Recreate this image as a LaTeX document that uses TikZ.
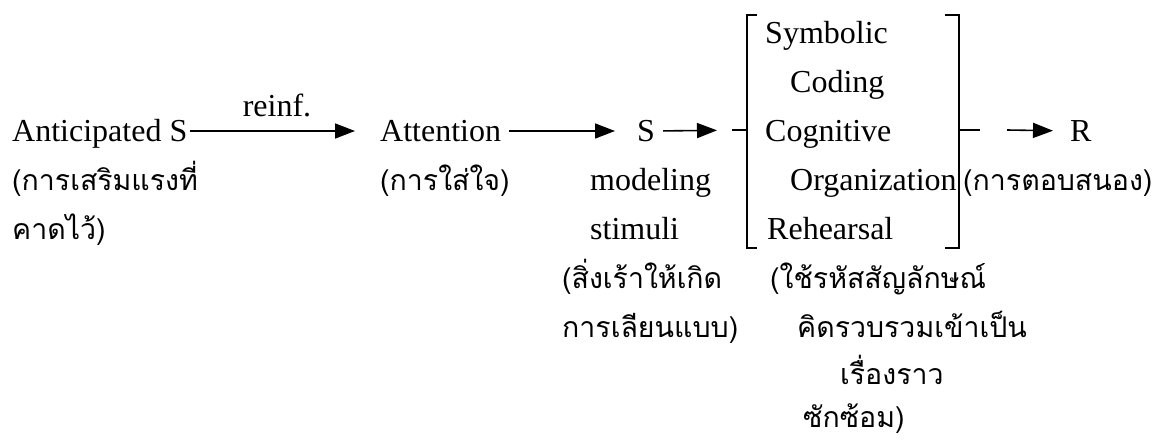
\documentclass[tikz,border=0pt]{standalone}
\usepackage{fontspec}
\setmainfont{Liberation Serif}
\newfontfamily\thaifont[Script=Thai]{Loma}
\usetikzlibrary{arrows.meta}
\begin{document}
\begin{tikzpicture}[x=1pt,y=-1pt,
  lat/.style={anchor=west, inner sep=0pt, font=\fontsize{32}{36}\selectfont, text height=20pt, text depth=0pt},
  tha/.style={anchor=west, inner sep=0pt, font=\thaifont\fontsize{28.5}{32}\selectfont, text height=20pt, text depth=0pt},
  ln/.style={line width=1.6pt},
  arr/.style={line width=1.6pt, -{Triangle[length=20pt,width=15pt]}}]
\useasboundingbox (0,0) rectangle (1158,439);
% rows: 33 82 131 180 229 278 327 375 417
\node[lat] (antS) at (12,131) {Anticipated S};
\node[tha] (antT1) at (12,180) {(การเสริมแรงที่};
\node[tha] (antT2) at (12,229) {คาดไว้)};
\node[lat, anchor=center] (reinf) at (277,106) {reinf.};
\node[lat] (att) at (380,131) {Attention};
\node[tha] (attT) at (380,180) {(การใส่ใจ)};
\node[lat] (s) at (637,131) {S};
\node[lat] (mod) at (590,180) {modeling};
\node[lat] (stim) at (590,229) {stimuli};
\node[tha] (sT1) at (562,278) {(สิ่งเร้าให้เกิด};
\node[tha] (sT2) at (562,327) {การเลียนแบบ)};
\node[lat] (sym) at (765,33) {Symbolic};
\node[lat] (cod) at (790,82) {Coding};
\node[lat] (cog) at (765,131) {Cognitive};
\node[lat] (org) at (790,180) {Organization};
\node[lat] (reh) at (767,229) {Rehearsal};
\node[tha] (bT1) at (770,278) {(ใช้รหัสสัญลักษณ์};
\node[tha] (bT2) at (797,327) {คิดรวบรวมเข้าเป็น};
\node[tha] (bT3) at (840,374) {เรื่องราว};
\node[tha] (bT4) at (803,417) {ซักซ้อม)};
\node[lat] (r) at (1070,131) {R};
\node[tha] (rT) at (963,180) {(การตอบสนอง)};
% brackets
\coordinate (lb) at (747,130);
\coordinate (rb) at (959,130);
\draw[ln] (757,15) -- (747,15) -- (747,248) -- (757,248);
\draw[ln] (945,15) -- (959,15) -- (959,248) -- (945,248);
% connectors
\coordinate (tk) at (732,130);
\coordinate (rk) at (980,130);
\coordinate (ra) at (1007,130);
\draw[arr, shorten <=3pt, shorten >=25pt] (antS.east) -- (att.west);
\draw[arr, shorten <=8pt, shorten >=22pt] (att.east) -- (s.west);
\draw[arr, shorten <=8pt, shorten >=30pt] (s.east) -- (lb);
\draw[ln] (tk) -- (lb);
\draw[ln] (rb) -- (rk);
\draw[arr, shorten >=17pt] (ra) -- (r.west);
\end{tikzpicture}
\end{document}
